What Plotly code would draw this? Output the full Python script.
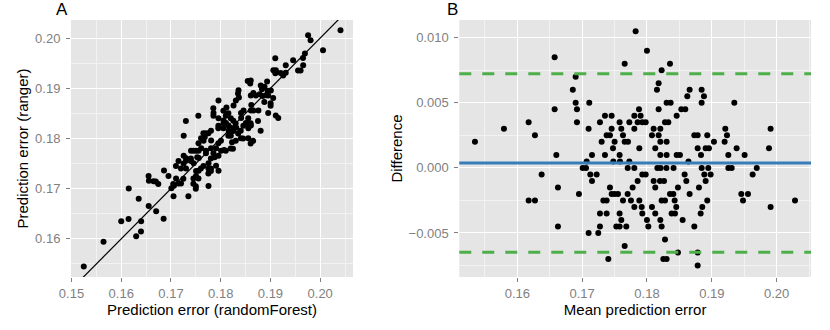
import plotly.graph_objects as go

# Values: mean of the two errors and their difference
# (ranger - randomForest), one row of the picture per line.
mean_err = [
    0.17825,
    0.1800,
    0.16576,
    0.17656, 0.18355,
    0.18226,
    0.1690,
    0.1818,
    0.16856, 0.18154, 0.18658, 0.18843,
    0.18622, 0.18879,
    0.1690, 0.1711, 0.18303, 0.18365, 0.18843, 0.19347,
    0.16576, 0.1692, 0.17877, 0.1818, 0.1853, 0.18591,
    0.17352, 0.17455, 0.17805, 0.17902, 0.18458,
    0.16175, 0.1692, 0.17275, 0.17578, 0.17728, 0.17856, 0.17928, 0.1798, 0.18278, 0.18329,
    0.15794, 0.1710, 0.17455, 0.17604, 0.17805, 0.18103, 0.18206, 0.19208, 0.19907,
    0.16272, 0.17378, 0.17429, 0.1763, 0.18077, 0.1818, 0.1873, 0.18782, 0.1893, 0.19234,
    0.15347, 0.17301, 0.17501, 0.17656, 0.17707, 0.18206, 0.18303, 0.19033, 0.19198,
    0.17476, 0.17882, 0.18128, 0.18782, 0.18905, 0.18956, 0.19383, 0.19882,
    0.16602, 0.17152, 0.17352, 0.17578, 0.18206, 0.18303, 0.18458, 0.18509, 0.18833, 0.19255, 0.19506,
    0.1707, 0.17481, 0.17584, 0.17728, 0.1864,
    0.17008, 0.1706, 0.17703, 0.17805, 0.1816, 0.1821, 0.1830, 0.1841, 0.18844, 0.18946, 0.19255, 0.19307, 0.19693,
    0.16375, 0.17126, 0.17224, 0.17928, 0.1798, 0.18581, 0.18884, 0.18982, 0.1963,
    0.17152, 0.17856, 0.18103, 0.18201, 0.18263, 0.18607, 0.18905,
    0.16627, 0.17429, 0.17779, 0.18128, 0.18478, 0.18802,
    0.16951, 0.17455, 0.17501, 0.17553, 0.17702, 0.18355, 0.18406, 0.18658, 0.19455, 0.19558,
    0.16175, 0.16272, 0.17327, 0.17378, 0.1763, 0.17753, 0.17882, 0.18226, 0.18278, 0.18427, 0.1893, 0.19481, 0.20283,
    0.17805, 0.17919, 0.18077, 0.18452, 0.18853, 0.19907,
    0.17275, 0.17378, 0.17578, 0.17928, 0.18128, 0.1838, 0.18432, 0.18828,
    0.17604, 0.1800, 0.18206, 0.1855,
    0.16627, 0.17275, 0.17527, 0.17578, 0.17681, 0.18021, 0.18226, 0.1873,
    0.1710, 0.17249,
    0.18278,
    0.17656,
    0.18478, 0.18782,
    0.17404, 0.18252, 0.18303,
    0.18782,
]
diff_err = (
    [0.0105] * 1 + [0.009] * 1 + [0.0085] * 1 + [0.008] * 2 + [0.0075] * 1
    + [0.007] * 1 + [0.0065] * 1 + [0.006] * 4 + [0.0055] * 2 + [0.005] * 6
    + [0.0045] * 6 + [0.004] * 5 + [0.0035] * 10 + [0.003] * 9 + [0.0025] * 10
    + [0.002] * 9 + [0.0015] * 8 + [0.001] * 11 + [0.0005] * 5 + [0.0] * 13
    + [-0.0005] * 9 + [-0.001] * 7 + [-0.0015] * 6 + [-0.002] * 10
    + [-0.0025] * 13 + [-0.003] * 6 + [-0.0035] * 8 + [-0.004] * 4
    + [-0.0045] * 8 + [-0.005] * 2 + [-0.0055] * 1 + [-0.006] * 1
    + [-0.0065] * 2 + [-0.007] * 3 + [-0.0075] * 1
)

# mean difference and limits of agreement, as drawn
mean_diff = 0.00038
loa_upper = 0.00724
loa_lower = -0.00648

# back to the two error columns of panel A
rf_err = [m - d / 2 for m, d in zip(mean_err, diff_err)]
ranger_err = [m + d / 2 for m, d in zip(mean_err, diff_err)]

a_xrange = [0.1499, 0.2066]
a_yrange = [0.1524, 0.2036]
b_xrange = [0.15105, 0.2053]
b_yrange = [-0.00838, 0.01136]

GREY_TICK = "#7F7F7F"
FONT = "Liberation Sans, Arial, Helvetica, sans-serif"


def axis(rng, dtick, minor_dtick, fmt, title, standoff, label_gap):
    return dict(
        range=rng,
        dtick=dtick,
        tickformat=fmt,
        showgrid=True,
        gridcolor="white",
        gridwidth=1.3,
        minor=dict(showgrid=True, dtick=minor_dtick, gridcolor="#F2F2F2", gridwidth=0.7),
        ticks="outside",
        ticklen=4,
        tickwidth=1,
        tickcolor=GREY_TICK,
        tickfont=dict(size=13, color=GREY_TICK),
        ticklabelstandoff=label_gap,
        zeroline=False,
        showline=False,
        title=dict(text=title, font=dict(size=15, color="black"), standoff=standoff),
    )


fig = go.Figure()

fig.add_trace(go.Scatter(
    x=rf_err, y=ranger_err, mode="markers",
    marker=dict(color="black", size=6),
    xaxis="x", yaxis="y", showlegend=False,
))
# identity line across panel A
fig.add_trace(go.Scatter(
    x=a_xrange, y=a_xrange, mode="lines",
    line=dict(color="black", width=1.2),
    xaxis="x", yaxis="y", showlegend=False,
))

fig.add_trace(go.Scatter(
    x=mean_err, y=diff_err, mode="markers",
    marker=dict(color="black", size=6),
    xaxis="x2", yaxis="y2", showlegend=False,
))

for val, col, dash in [(loa_upper, "#4DAF4A", "12px,11px"),
                       (loa_lower, "#4DAF4A", "12px,11px"),
                       (mean_diff, "#377EB8", "solid")]:
    fig.add_shape(
        type="line", xref="x2 domain", yref="y2",
        x0=0, x1=1, y0=val, y1=val,
        line=dict(color=col, width=3, dash=dash),
    )

fig.update_layout(
    width=830,
    height=330,
    margin=dict(l=71, r=19, t=20, b=53),
    paper_bgcolor="white",
    plot_bgcolor="#E5E5E5",
    font=dict(family=FONT, color="black"),
    xaxis=dict(axis(a_xrange, 0.01, 0.005, ".2f", "Prediction error (randomForest)", 0, 0),
               domain=[0, 0.3811], anchor="y"),
    yaxis=dict(axis(a_yrange, 0.01, 0.005, ".2f", "Prediction error (ranger)", 2, 3),
               domain=[0, 1], anchor="x"),
    xaxis2=dict(axis(b_xrange, 0.01, 0.005, ".2f", "Mean prediction error", 0, 0),
                domain=[0.5247, 1], anchor="y2"),
    yaxis2=dict(axis(b_yrange, 0.005, 0.0025, ".3f", "Difference", 2, 3),
                domain=[0, 1], anchor="x2"),
    annotations=[
        dict(text="A", xref="paper", yref="paper", x=-0.023, y=1.041,
             xanchor="left", yanchor="middle", showarrow=False,
             font=dict(size=17, color="black")),
        dict(text="B", xref="paper", yref="paper", x=0.5055, y=1.041,
             xanchor="left", yanchor="middle", showarrow=False,
             font=dict(size=17, color="black")),
    ],
)

# drop the browser's default body margin so the figure sits at the page corner
fig.write_html("out.html", config={"displayModeBar": False},
               post_script="document.body.style.margin = '0';")
